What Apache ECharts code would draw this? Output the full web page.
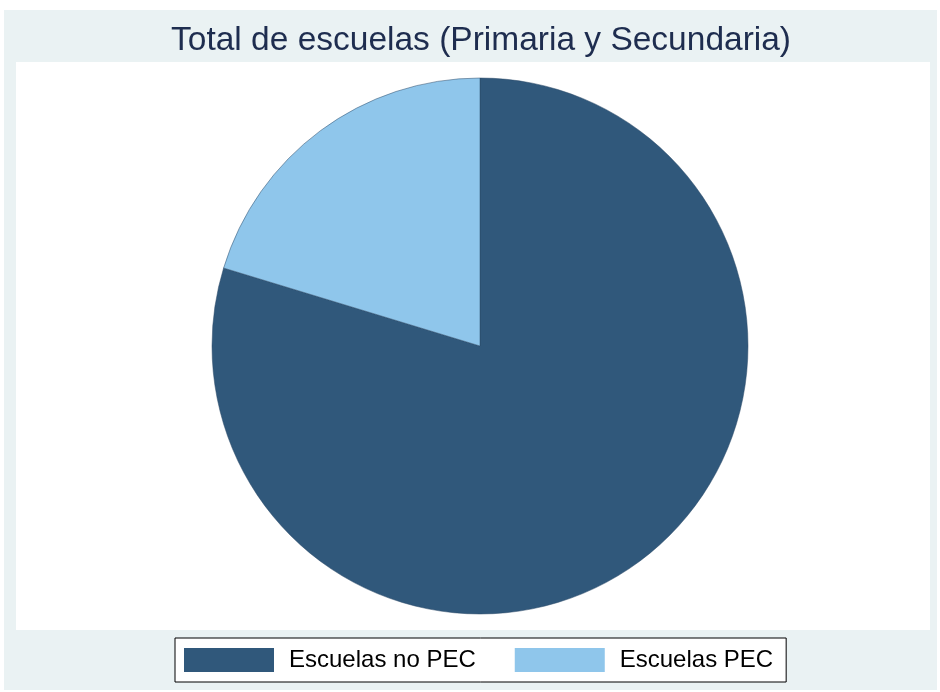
<!DOCTYPE html>
<html>
<head>
<meta charset="UTF-8">
<title>Total de escuelas</title>
<script src="https://cdn.jsdelivr.net/npm/echarts@6/dist/echarts.min.js"></script>
<style>
  html, body { margin: 0; padding: 0; background: #fff; }
  #main { width: 940px; height: 692px; }
</style>
</head>
<body>
<div id="main"></div>
<script>
var categories = ['Escuelas no PEC', 'Escuelas PEC'];
var shares = [79.7, 20.3];
var colors = ['#30587B', '#8FC6EB'];

var chart = echarts.init(document.getElementById('main'));

var pieData = categories.map(function (name, i) {
    return { name: name, value: shares[i], itemStyle: { color: colors[i] } };
});

chart.setOption({
    animation: false,
    backgroundColor: '#ffffff',
    graphic: [
        // outer light panel
        { type: 'rect', z: -10, shape: { x: 4, y: 10, width: 933, height: 680 }, style: { fill: '#EAF2F3' } },
        // inner plot region
        { type: 'rect', z: -9, shape: { x: 16, y: 62, width: 914, height: 568 }, style: { fill: '#ffffff' } }
    ],
    title: {
        text: 'Total de escuelas (Primaria y Secundaria)',
        left: 166,
        top: 19,
        textStyle: { fontFamily: 'Liberation Sans', fontSize: 33.5, fontWeight: 'normal', color: '#1E2D4F' }
    },
    legend: {
        data: categories,
        left: 175,
        top: 638,
        orient: 'horizontal',
        backgroundColor: '#ffffff',
        borderColor: '#000000',
        borderWidth: 1,
        padding: [10, 13, 10, 9],
        itemWidth: 90,
        itemHeight: 24,
        itemGap: 39,
        icon: 'rect',
        itemStyle: { borderWidth: 0 },
        textStyle: { fontFamily: 'Liberation Sans', fontSize: 24, color: '#000', padding: [0, 0, 0, 10] }
    },
    series: [{
        type: 'pie',
        center: [480, 346],
        radius: 268,
        startAngle: 90,
        clockwise: true,
        label: { show: false },
        labelLine: { show: false },
        emphasis: { disabled: true },
        itemStyle: { borderColor: '#2a4866', borderWidth: 0.5 },
        data: pieData
    }]
});
</script>
</body>
</html>
